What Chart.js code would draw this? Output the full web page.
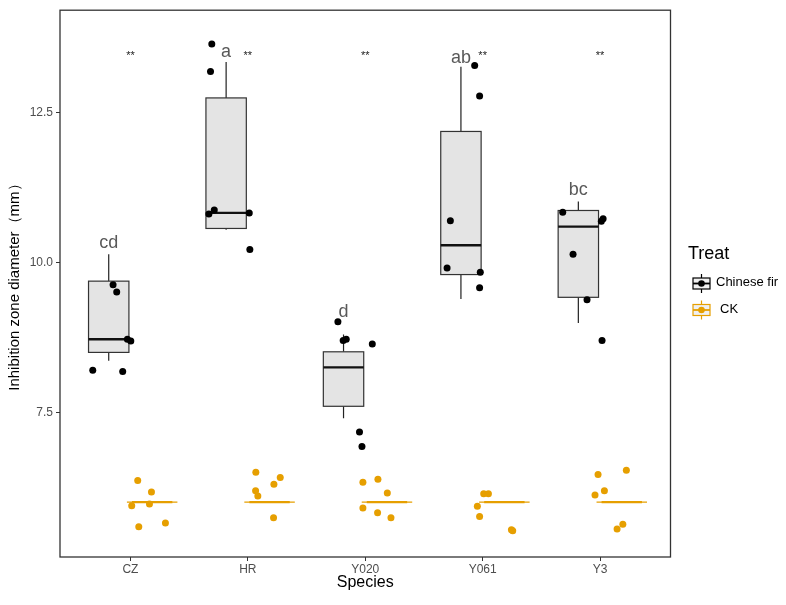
<!DOCTYPE html>
<html>
<head>
<meta charset="utf-8">
<script src="https://cdn.jsdelivr.net/npm/chart.js@4"></script>
<style>
  body { margin: 0; background: #fff; }
  #wrap { width: 786px; height: 605px; }
</style>
</head>
<body>
<div id="wrap"><canvas id="chart_boxes"></canvas></div>
<script>
const species = ['CZ', 'HR', 'Y020', 'Y061', 'Y3'];
const yTicks = [7.5, 10.0, 12.5];

// Chinese fir box stats
const firLow    = [8.36, 10.55, 7.40, 9.39, 8.99];
const firQ1     = [8.50, 10.57, 7.60, 9.80, 9.42];
const firMedian = [8.72, 10.83, 8.25, 10.29, 10.60];
const firQ3     = [9.69, 12.75, 8.51, 12.19, 10.87];
const firHigh   = [10.14, 13.35, 8.80, 13.27, 11.02];
// CK boxes collapse to one value
const ckMedian  = [6.0, 6.0, 6.0, 6.0, 6.0];

// jittered points: group index + horizontal jitter, value
const firGroup  = [0,0,0,0,0,0, 1,1,1,1,1,1, 2,2,2,2,2,2, 3,3,3,3,3,3, 4,4,4,4,4,4];
const firJitter = [-0.148,-0.117,-0.026,0.003,-0.321,-0.066,
                   -0.307,-0.318,-0.332,-0.286,0.012,0.017,
                   -0.233,-0.188,-0.162,0.060,-0.049,-0.028,
                   -0.068,-0.026,-0.275,-0.303,-0.020,-0.026,
                   -0.318,0.011,0.026,-0.230,-0.111,0.017];
const firValues = [9.63,9.51,8.72,8.69,8.20,8.18,
                   13.65,13.19,10.81,10.88,10.83,10.22,
                   9.01,8.70,8.72,8.64,7.17,6.93,
                   13.29,12.78,10.70,9.91,9.84,9.58,
                   10.84,10.69,10.73,10.14,9.38,8.70];

const ckGroup  = [0,0,0,0,0,0, 1,1,1,1,1,1, 2,2,2,2,2,2, 3,3,3,3,3,3, 4,4,4,4,4,4];
const ckJitter = [0.062,0.179,0.011,0.162,0.071,0.298,
                  0.068,0.276,0.222,0.066,0.085,0.219,
                  -0.020,0.108,0.188,-0.020,0.105,0.219,
                  0.009,0.049,-0.045,-0.026,0.245,0.256,
                  -0.017,0.224,0.037,-0.043,0.194,0.145];
const ckValues = [6.36,6.17,5.94,5.97,5.59,5.65,
                  6.50,6.41,6.30,6.19,6.10,5.74,
                  6.33,6.38,6.15,5.90,5.82,5.74,
                  6.14,6.14,5.93,5.76,5.54,5.52,
                  6.46,6.53,6.19,6.12,5.63,5.55];

// letters over the Chinese fir boxes, and significance marks
const letters = ['cd', 'a', 'd', 'ab', 'bc'];
const letterY = [10.32, 13.52, 9.17, 13.42, 11.21];
const signif = ['**', '**', '**', '**', '**'];
const signifY = 13.49;

const FONT = 'Arial, "Liberation Sans", sans-serif';
const FIR_COL = '#000000';
const CK_COL = '#E69F00';

const firPoints = firValues.map((v, i) => ({ x: firGroup[i] + firJitter[i], y: v }));
const ckPoints = ckValues.map((v, i) => ({ x: ckGroup[i] + ckJitter[i], y: v }));

const boxPlugin = {
    id: 'boxes',
    beforeDatasetsDraw(chart) {
        const ctx = chart.ctx, xs = chart.scales.x, ys = chart.scales.y;
        ctx.save();
        species.forEach((s, i) => {
            const c = i - 0.185, hw = 0.172;
            const x0 = xs.getPixelForValue(c - hw), x1 = xs.getPixelForValue(c + hw);
            const xm = xs.getPixelForValue(c);
            // whiskers
            ctx.strokeStyle = '#222';
            ctx.lineWidth = 1.2;
            ctx.beginPath();
            ctx.moveTo(xm, ys.getPixelForValue(firHigh[i]));
            ctx.lineTo(xm, ys.getPixelForValue(firQ3[i]));
            ctx.moveTo(xm, ys.getPixelForValue(firQ1[i]));
            ctx.lineTo(xm, ys.getPixelForValue(firLow[i]));
            ctx.stroke();
            // box
            const yt = ys.getPixelForValue(firQ3[i]), yb = ys.getPixelForValue(firQ1[i]);
            ctx.fillStyle = '#e4e4e4';
            ctx.fillRect(x0, yt, x1 - x0, yb - yt);
            ctx.strokeStyle = '#333';
            ctx.lineWidth = 1.2;
            ctx.strokeRect(x0, yt, x1 - x0, yb - yt);
            // median
            const ym = ys.getPixelForValue(firMedian[i]);
            ctx.strokeStyle = '#111';
            ctx.lineWidth = 2.4;
            ctx.beginPath();
            ctx.moveTo(x0, ym);
            ctx.lineTo(x1, ym);
            ctx.stroke();

            // CK collapsed box
            const yc = ys.getPixelForValue(ckMedian[i]);
            ctx.strokeStyle = CK_COL;
            ctx.lineWidth = 1.2;
            ctx.beginPath();
            ctx.moveTo(xs.getPixelForValue(i - 0.03), yc);
            ctx.lineTo(xs.getPixelForValue(i + 0.40), yc);
            ctx.stroke();
            ctx.lineWidth = 2.4;
            ctx.beginPath();
            ctx.moveTo(xs.getPixelForValue(i + 0.185 - 0.172), yc);
            ctx.lineTo(xs.getPixelForValue(i + 0.185 + 0.172), yc);
            ctx.stroke();
        });
        ctx.restore();
    },
    afterDatasetsDraw(chart) {
        const ctx = chart.ctx, xs = chart.scales.x, ys = chart.scales.y;
        ctx.save();
        ctx.textAlign = 'center';
        ctx.textBaseline = 'middle';
        species.forEach((s, i) => {
            ctx.fillStyle = '#595959';
            ctx.font = '18px ' + FONT;
            ctx.fillText(letters[i], xs.getPixelForValue(i - 0.185), ys.getPixelForValue(letterY[i]));
            ctx.fillStyle = '#222';
            ctx.font = '11px ' + FONT;
            ctx.fillText(signif[i], xs.getPixelForValue(i), ys.getPixelForValue(signifY) + 2);
        });
        // panel border
        const a = chart.chartArea;
        ctx.strokeStyle = '#333';
        ctx.lineWidth = 1.3;
        ctx.strokeRect(a.left, a.top, a.right - a.left, a.bottom - a.top);

        // legend
        ctx.textAlign = 'left';
        ctx.fillStyle = '#000';
        ctx.font = '18px ' + FONT;
        ctx.fillText('Treat', 688, 254);
        const items = [['Chinese fir', FIR_COL, 283.5, 716], ['CK', CK_COL, 310, 720]];
        items.forEach(([label, col, cy, tx]) => {
            ctx.strokeStyle = col;
            ctx.lineWidth = 1.2;
            ctx.beginPath();
            ctx.moveTo(701.5, cy - 9.5); ctx.lineTo(701.5, cy - 5.5);
            ctx.moveTo(701.5, cy + 5.5); ctx.lineTo(701.5, cy + 9.5);
            ctx.stroke();
            ctx.fillStyle = '#f0f0f0';
            ctx.fillRect(693, cy - 5.5, 17, 11);
            ctx.strokeRect(693, cy - 5.5, 17, 11);
            ctx.lineWidth = 1.8;
            ctx.beginPath();
            ctx.moveTo(693, cy); ctx.lineTo(710, cy);
            ctx.stroke();
            ctx.fillStyle = col;
            ctx.beginPath();
            ctx.arc(701.5, cy, 3.3, 0, Math.PI * 2);
            ctx.fill();
            ctx.fillStyle = '#000';
            ctx.font = '13px ' + FONT;
            ctx.fillText(label, tx, cy - 1);
        });
        ctx.restore();
    }
};

const config_boxes = {
    type: 'scatter',
    data: {
        datasets: [{
            label: 'Chinese fir',
            data: firPoints,
            backgroundColor: FIR_COL,
            borderColor: FIR_COL,
            pointRadius: 3.5,
            borderWidth: 0
        }, {
            label: 'CK',
            data: ckPoints,
            backgroundColor: CK_COL,
            borderColor: CK_COL,
            pointRadius: 3.5,
            borderWidth: 0
        }]
    },
    options: {
        responsive: false,
        animation: false,
        layout: { padding: { top: 10, right: 115.5, left: 0, bottom: 0 } },
        plugins: {
            legend: { display: false },
            tooltip: { enabled: false }
        },
        scales: {
            x: {
                type: 'linear',
                min: -0.6,
                max: 4.6,
                afterBuildTicks: scale => { scale.ticks = species.map((s, i) => ({ value: i })); },
                afterFit: scale => { scale.height = 48; },
                ticks: {
                    callback: v => species[v],
                    color: '#4d4d4d',
                    font: { size: 12, family: FONT },
                    padding: 1,
                    maxRotation: 0,
                    autoSkip: false
                },
                grid: { drawOnChartArea: false, color: '#333', tickLength: 4, tickWidth: 1 },
                border: { display: false },
                title: {
                    display: true,
                    text: 'Species',
                    color: '#000',
                    font: { size: 16, family: FONT },
                    padding: { top: 0, bottom: 13 }
                }
            },
            y: {
                min: 5.083,
                max: 14.215,
                afterBuildTicks: scale => { scale.ticks = yTicks.map(v => ({ value: v })); },
                afterFit: scale => { scale.width = 60; },
                ticks: {
                    callback: v => v.toFixed(1),
                    color: '#4d4d4d',
                    font: { size: 12, family: FONT },
                    padding: 3
                },
                grid: { drawOnChartArea: false, color: '#333', tickLength: 4, tickWidth: 1 },
                border: { display: false },
                title: {
                    display: true,
                    text: 'Inhibition zone diameter（mm）',
                    color: '#000',
                    font: { size: 15, family: FONT },
                    padding: { top: 6, bottom: 0 }
                }
            }
        }
    },
    plugins: [boxPlugin]
};

const canvas = document.getElementById('chart_boxes');
canvas.width = 786;
canvas.height = 605;
const myChart_boxes = new Chart(canvas, config_boxes);
</script>
</body>
</html>
